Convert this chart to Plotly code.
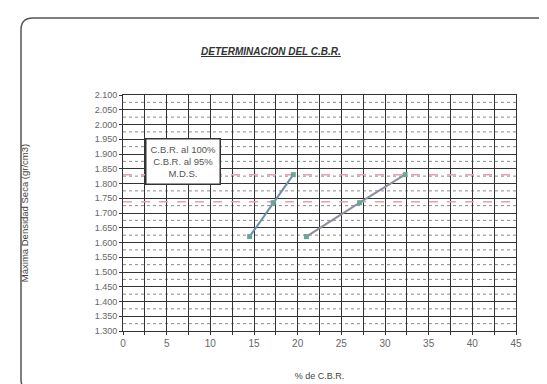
import plotly.graph_objects as go

# CBR values (0.1" and 0.2" penetration)
cbr_01 = [14.5, 17.2, 19.5]
cbr_02 = [21.0, 27.1, 32.3]
densidad = [1.620, 1.735, 1.830]

mds = 1.830
mds_95 = 0.95 * mds
x_lim = [0, 45]

y_ticks = [1.300 + 0.05 * i for i in range(17)]
y_labels = [f"{v:.3f}" for v in y_ticks]

W, H = 547, 384
L, R, T, B = 115, 39, 87, 61
pw, ph = W - L - R, H - T - B


def px(x):
    return (x - L) / pw


def py(y):
    return 1 - (y - T) / ph


fig = go.Figure()

# minor horizontal dotted lines
for i in range(16):
    yv = 1.325 + 0.05 * i
    fig.add_shape(type="line", xref="x", yref="y", x0=0, x1=45, y0=yv, y1=yv,
                  line=dict(color="#8a8a8a", width=1, dash="dot"), layer="below")

fig.add_trace(go.Scatter(x=x_lim, y=[mds, mds], mode="lines", name="M.D.S.",
                         line=dict(color="#e3a0ad", width=1.5, dash="dash")))
fig.add_trace(go.Scatter(x=x_lim, y=[mds_95, mds_95], mode="lines", name="95%",
                         line=dict(color="#e3a0ad", width=1.5, dash="dash")))

fig.add_trace(go.Scatter(x=cbr_01, y=densidad, mode="lines+markers", name="C.B.R. 0.1",
                         line=dict(color="#6d8ea3", width=2),
                         marker=dict(symbol="square", size=5, color="#6aa59a")))
fig.add_trace(go.Scatter(x=cbr_02, y=densidad, mode="lines+markers", name="C.B.R. 0.2",
                         line=dict(color="#8e8f9c", width=2),
                         marker=dict(symbol="square", size=5, color="#6aa59a")))

fig.update_xaxes(range=x_lim, tickvals=list(range(0, 46, 5)),
                 showgrid=True, gridcolor="#333333", gridwidth=1,
                 minor=dict(dtick=2.5, showgrid=True, gridcolor="#333333", gridwidth=1,
                            ticks="outside", ticklen=3, tickcolor="#333333"),
                 ticks="outside", ticklen=3, tickcolor="#333333",
                 showline=True, linecolor="#333333", mirror=True, zeroline=False,
                 tickfont=dict(family="Liberation Sans", size=10, color="#666666"),
                 title=dict(text="% de C.B.R.", standoff=24,
                            font=dict(family="Liberation Sans", size=9, color="#444444")))

fig.update_yaxes(range=[1.3, 2.1], tickvals=y_ticks, ticktext=y_labels,
                 showgrid=True, gridcolor="#333333", gridwidth=1,
                 ticks="outside", ticklen=3, tickcolor="#333333",
                 showline=True, linecolor="#333333", mirror=True, zeroline=False,
                 tickfont=dict(family="Liberation Sans", size=9, color="#666666"),
                 title=dict(text="Máxima Densidad Seca (gr/cm3)", standoff=64,
                            font=dict(family="Liberation Sans", size=9.5, color="#444444")))

# legend-like text box
fig.add_annotation(xref="paper", yref="paper", x=px(175), y=py(153),
                   xanchor="center", yanchor="middle",
                   text="C.B.R. al 100%<br>C.B.R. al 95%<br>M.D.S.",
                   showarrow=False, align="center", bgcolor="white",
                   bordercolor="#333333", borderwidth=1.5, borderpad=4,
                   font=dict(family="Liberation Sans", size=9.5, color="#555555"))

# title
fig.add_annotation(xref="paper", yref="paper", x=px(263), y=py(43),
                   xanchor="center", yanchor="middle",
                   text="<b><i><u>DETERMINACION DEL C.B.R.</u></i></b>",
                   showarrow=False,
                   font=dict(family="Liberation Sans", size=10, color="#333333"))

# rounded outer frame
x0, x1, y0, y1, r = px(13), px(543), py(10), py(383), 0.03
ry = r * pw / ph
path = (f"M {x0 + r},{y0} L {x1 - r},{y0} Q {x1},{y0} {x1},{y0 - ry} "
        f"L {x1},{y1 + ry} Q {x1},{y1} {x1 - r},{y1} L {x0 + r},{y1} "
        f"Q {x0},{y1} {x0},{y1 + ry} L {x0},{y0 - ry} Q {x0},{y0} {x0 + r},{y0} Z")
fig.add_shape(type="path", xref="paper", yref="paper", path=path,
              line=dict(color="#555555", width=1.5))

fig.update_layout(width=W, height=H, margin=dict(l=L, r=R, t=T, b=B),
                  plot_bgcolor="white", paper_bgcolor="white", showlegend=False)

fig.write_html("out.html")
